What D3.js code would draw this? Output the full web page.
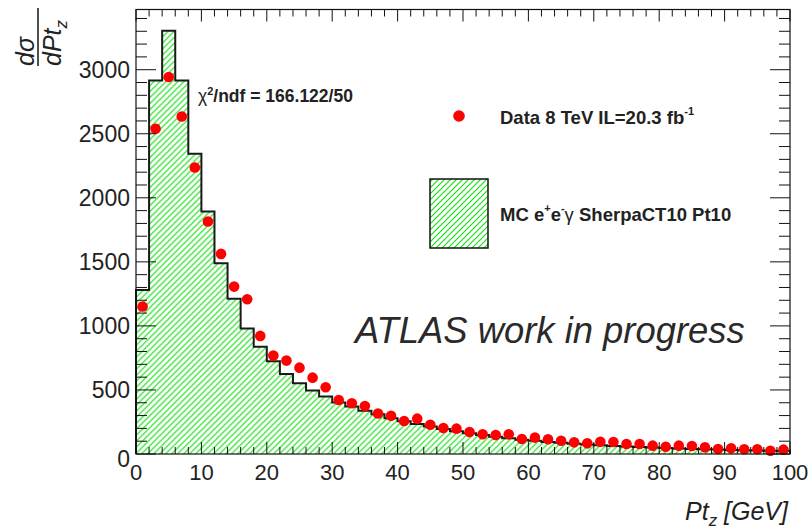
<!DOCTYPE html>
<html>
<head>
<meta charset="utf-8">
<script src="https://cdn.jsdelivr.net/npm/d3@7"></script>
<style>
  body { margin: 0; background: #fff; }
  text { font-family: "Liberation Sans", Arial, sans-serif; }
</style>
</head>
<body>
<svg id="chart" width="811" height="530"></svg>
<script>
// bin edges: 50 bins of 2 GeV from 0 to 100
const binLow = d3.range(0, 100, 2);

// MC histogram content per bin
const mcValues = [1281, 2916, 3305, 2916, 2344, 1893, 1490, 1211, 980, 838,
                  724, 625, 552, 495, 448, 402, 370, 338, 310, 280,
                  255, 235, 215, 195, 178, 162, 148, 135, 123, 112,
                  103, 94, 87, 80, 74, 68, 63, 58, 54, 50,
                  46, 43, 40, 37, 35, 32, 30, 28, 26, 24];

// data points at bin centres
const dataValues = [1151, 2539, 2943, 2635, 2237, 1815, 1562, 1307, 1208, 922,
                    768, 729, 674, 596, 521, 422, 396, 375, 316, 299,
                    258, 276, 228, 203, 198, 172, 154, 148, 154, 117,
                    128, 115, 104, 91, 83, 96, 94, 78, 78, 65,
                    57, 65, 62, 52, 39, 44, 37, 37, 25, 34];

const yTickValues = [0, 500, 1000, 1500, 2000, 2500, 3000];
const xTickValues = [0, 10, 20, 30, 40, 50, 60, 70, 80, 90, 100];

let margin = {top: 9.5, right: 21, bottom: 76, left: 136};
let width = 811 - margin.left - margin.right;
let height = 530 - margin.top - margin.bottom;

let svg = d3.select("#chart");

// hatch pattern, ROOT style 3004
let defs = svg.append("defs");
let pat = defs.append("pattern")
    .attr("id", "hatch")
    .attr("patternUnits", "userSpaceOnUse")
    .attr("width", 6).attr("height", 6);
pat.append("path")
    .attr("d", "M0,6 L6,0 M-1.5,1.5 L1.5,-1.5 M4.5,7.5 L7.5,4.5")
    .attr("stroke", "#14e014").attr("stroke-width", 1.2);

let chart = svg.append("g")
    .attr("transform", "translate(" + margin.left + "," + margin.top + ")");

let x = d3.scaleLinear().domain([0, 100]).range([0, width]);
let y = d3.scaleLinear().domain([0, 3470]).range([height, 0]);

// histogram fill + outline
let pts = [];
binLow.forEach((lo, i) => {
    pts.push([x(lo), y(mcValues[i])]);
    pts.push([x(lo + 2), y(mcValues[i])]);
});
let steps = pts.map(p => p.join(",")).join(" L");
chart.append("path")
    .attr("d", "M" + x(0) + "," + y(0) + " L" + steps + " L" + x(100) + "," + y(0) + " Z")
    .attr("fill", "url(#hatch)");
chart.append("path")
    .attr("d", "M" + x(0) + "," + y(0) + " L" + steps + " L" + x(100) + "," + y(0))
    .attr("fill", "none")
    .attr("stroke", "#1a1a1a")
    .attr("stroke-width", 2);

// data markers
chart.selectAll(".dot")
    .data(dataValues)
    .enter().append("circle")
    .attr("cx", (d, i) => x(binLow[i] + 1))
    .attr("cy", d => y(d))
    .attr("r", 5.3)
    .attr("fill", "#ff0000");

// frame
chart.append("rect")
    .attr("width", width).attr("height", height)
    .attr("fill", "none").attr("stroke", "#111").attr("stroke-width", 1.2);

// ticks (ROOT style: inside, on all four sides)
let tickG = chart.append("g").attr("stroke", "#111").attr("stroke-width", 1);
d3.range(0, 3470, 100).forEach(v => {
    let len = v % 500 === 0 ? 20 : 11;
    tickG.append("line").attr("x1", 0).attr("x2", len).attr("y1", y(v)).attr("y2", y(v));
    tickG.append("line").attr("x1", width).attr("x2", width - len).attr("y1", y(v)).attr("y2", y(v));
});
d3.range(0, 101, 2).forEach(v => {
    let len = v % 10 === 0 ? 12 : 7;
    tickG.append("line").attr("x1", x(v)).attr("x2", x(v)).attr("y1", height).attr("y2", height - len);
    tickG.append("line").attr("x1", x(v)).attr("x2", x(v)).attr("y1", 0).attr("y2", len);
});

// tick labels
chart.append("g").selectAll("text")
    .data(yTickValues).enter().append("text")
    .attr("x", -6)
    .attr("y", d => d === 0 ? y(d) + 5 : y(d))
    .attr("dy", "0.36em")
    .attr("text-anchor", "end")
    .attr("font-size", 23)
    .attr("fill", "#222")
    .text(d => d);
chart.append("g").selectAll("text")
    .data(xTickValues).enter().append("text")
    .attr("x", d => x(d))
    .attr("y", height + 26)
    .attr("text-anchor", "middle")
    .attr("font-size", 22)
    .attr("fill", "#222")
    .text(d => d);

// axis titles
let xt = svg.append("text")
    .attr("x", 788).attr("y", 520)
    .attr("text-anchor", "end")
    .attr("font-size", 25)
    .attr("font-style", "italic")
    .attr("fill", "#222");
xt.append("tspan").text("Pt");
xt.append("tspan").attr("font-size", 17).attr("dy", 6).text("z");
xt.append("tspan").attr("dy", -6).text(" [GeV]");

let yt = svg.append("g");
yt.append("text")
    .attr("transform", "translate(34,66) rotate(-90)")
    .attr("font-size", 25).attr("font-style", "italic").attr("fill", "#222")
    .text("dσ");
yt.append("line")
    .attr("x1", 38).attr("x2", 38).attr("y1", 8).attr("y2", 66)
    .attr("stroke", "#222").attr("stroke-width", 1.6);
let den = yt.append("text")
    .attr("transform", "translate(61,66) rotate(-90)")
    .attr("font-size", 25).attr("font-style", "italic").attr("fill", "#222");
den.append("tspan").text("dPt");
den.append("tspan").attr("font-size", 17).attr("dy", 6).text("z");

// chi2 label
let chi = svg.append("text")
    .attr("x", 198).attr("y", 102)
    .attr("font-size", 17.5).attr("font-weight", "bold").attr("fill", "#222");
chi.append("tspan").attr("font-weight", "normal").text("χ");
chi.append("tspan").attr("font-size", 11).attr("dy", -7).text("2");
chi.append("tspan").attr("dy", 7).text("/ndf = 166.122/50");

// legend
svg.append("circle").attr("cx", 459).attr("cy", 116).attr("r", 5.8).attr("fill", "#ff0000");
let l1 = svg.append("text")
    .attr("x", 500).attr("y", 124)
    .attr("font-size", 18.5).attr("font-weight", "bold").attr("fill", "#222");
l1.append("tspan").text("Data 8 TeV IL=20.3 fb");
l1.append("tspan").attr("font-size", 11).attr("dy", -9).text("-1");

svg.append("rect")
    .attr("x", 430).attr("y", 179).attr("width", 58).attr("height", 69)
    .attr("fill", "url(#hatch)").attr("stroke", "#111").attr("stroke-width", 1.5);
let l2 = svg.append("text")
    .attr("x", 500).attr("y", 221)
    .attr("font-size", 18.5).attr("font-weight", "bold").attr("fill", "#222");
l2.append("tspan").text("MC e");
l2.append("tspan").attr("font-size", 11).attr("dy", -9).text("+");
l2.append("tspan").attr("dy", 9).text("e");
l2.append("tspan").attr("font-size", 11).attr("dy", -9).text("-");
l2.append("tspan").attr("dy", 9).attr("font-weight", "normal").text("γ");
l2.append("tspan").text(" SherpaCT10 Pt10");

// watermark
svg.append("text")
    .attr("x", 355).attr("y", 343)
    .attr("font-size", 36.4).attr("font-style", "italic").attr("fill", "#2a2a2a")
    .text("ATLAS work in progress");
</script>
</body>
</html>
